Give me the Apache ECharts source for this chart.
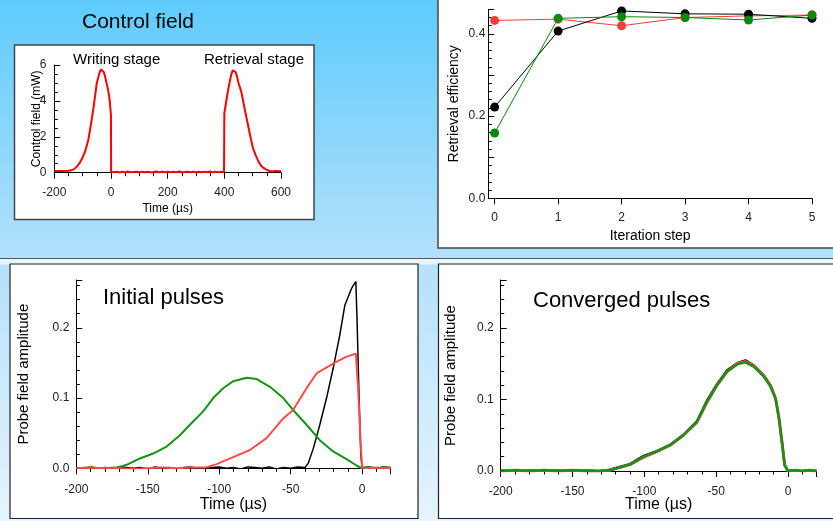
<!DOCTYPE html>
<html><head><meta charset="utf-8">
<script src="https://cdn.jsdelivr.net/npm/echarts@6/dist/echarts.min.js"></script>
<style>html,body{margin:0;padding:0;background:#fff}#c{width:833px;height:521px;}</style>
</head><body><div id="c"></div>
<script>
// ---- Control field (top-left) ----
const controlTime = [-200,-195,-190,-185,-180,-175,-170,-165,-160,-155,-150,-145,-140,-135,-130,-125,-120,-110,-100,-90,-80,-70,-60,-50,-40,-35,-30,-25,-20,-15,-10,-5,-1,0,0.5,
  10,20,30,40,50,60,70,80,90,100,110,120,130,140,150,160,170,180,190,200,210,220,230,240,250,260,270,280,290,300,310,320,330,340,350,360,370,380,390,399,
  400,405,410,415,420,425,430,435,440,445,450,460,470,480,490,500,510,520,530,540,550,560,565,570,575,580,585,590,595,600];
const controlPower = [0.08,0.15,0.1,0.14,0.09,0.13,0.1,0.12,0.08,0.14,0.11,0.09,0.13,0.15,0.2,0.28,0.35,0.55,0.85,1.25,1.82,2.75,3.8,5.0,5.6,5.75,5.8,5.6,5.3,4.95,4.6,4.1,3.4,3.15,0.05,
  0.02,0.06,0.01,0.05,0.03,0.07,0.02,0.04,0.06,0.02,0.05,0.03,0.06,0.01,0.04,0.07,0.03,0.05,0.02,0.06,0.03,0.05,0.02,0.07,0.03,0.04,0.06,0.02,0.05,0.03,0.06,0.02,0.05,0.04,0.07,0.02,0.05,0.03,0.06,0.04,
  3.3,3.8,4.3,4.75,5.15,5.5,5.7,5.72,5.6,5.35,5.0,4.5,3.7,2.92,2.16,1.43,0.99,0.64,0.38,0.25,0.15,0.1,0.13,0.07,0.14,0.09,0.12,0.08,0.13,0.1];
const controlXTicks = {min:-200, max:600, interval:200};
const controlYTicks = {min:0, max:6, interval:2};

// ---- Retrieval efficiency (top-right) ----
const iterationSteps = [0,1,2,3,4,5];
const effBlack = [0.222,0.407,0.456,0.449,0.448,0.438];
const effRed   = [0.433,0.436,0.420,0.440,0.444,0.446];
const effGreen = [0.159,0.438,0.442,0.440,0.434,0.446];

// ---- Initial pulses (bottom-left) ----
const initBlackT = [-200,-195,-190,-185,-180,-175,-170,-165,-160,-155,-150,-145,-140,-135,-130,-125,-120,-115,-110,-105,-100,-95,-90,-85,-80,-75,-70,-65,-60,-55,-50,-45,-40,-37.7,-34.2,-29.6,-24.9,-20.3,-15.6,-12.1,-7.4,-4.4,-3.5,-2.3,-0.9,0,5,10,15,20];
const initBlackA = [0.001,-0.001,0.002,0,0.001,-0.001,0.002,0.001,0,0.001,-0.001,0.002,0,0.001,-0.001,0.001,0.002,0,-0.001,0.001,0.002,0,0.001,-0.001,0.002,0.001,0,0.002,-0.001,0.001,0,0.002,0.001,0.007,0.028,0.062,0.1,0.142,0.19,0.232,0.256,0.266,0.208,0.114,0.019,0.001,0.002,0,0.002,0.001];
const initRedT = [-200,-190,-180,-170,-160,-150,-140,-130,-120,-110,-101.8,-90.2,-78.5,-66.9,-55.2,-48.3,-38.9,-31.9,-20.3,-10.9,-4.4,-2.8,-1.1,0,5,10,15,20];
const initRedA = [0,0.001,0,0,-0.001,0,0.001,0,0.001,0.001,0.006,0.016,0.026,0.043,0.071,0.083,0.114,0.135,0.149,0.159,0.163,0.114,0.038,0.001,0,0.001,0,0.001];
const initGreenT = [-200,-190,-183.4,-171.7,-164.8,-155.5,-146.2,-136.8,-127.5,-120.5,-111.2,-104.2,-97.2,-90.2,-80.8,-73.8,-64.5,-55.2,-48.3,-38.9,-29.6,-20.3,-10.9,-3.9,0,5,10,15,20];
const initGreenA = [0,0.001,0,0.001,0.005,0.014,0.021,0.031,0.047,0.062,0.081,0.1,0.114,0.124,0.129,0.127,0.116,0.1,0.083,0.062,0.040,0.024,0.013,0.004,0,0.001,0,0.001,0];

// ---- Converged pulses (bottom-right) ----
const convT = [-200,-190,-180,-170,-160,-150,-140,-131.1,-124.1,-117.1,-110.1,-100.8,-91.4,-82.1,-72.8,-63.4,-56.4,-49.4,-42.4,-35.4,-29.6,-23.8,-16.8,-12.1,-8.6,-6.3,-3.9,-2.3,0,5,10,15,20];
const convBlackA = [0.001,0,0.001,0,0.001,0,0.001,0,0.002,0.006,0.010,0.021,0.028,0.037,0.051,0.070,0.099,0.122,0.141,0.151,0.155,0.148,0.134,0.120,0.102,0.075,0.037,0.009,0.001,0.001,0,0.001,0];
const convRedA   = [0,0.001,0,0.001,0,0.001,0,0,0.001,0.005,0.009,0.019,0.027,0.036,0.050,0.068,0.096,0.120,0.139,0.150,0.153,0.147,0.133,0.119,0.101,0.074,0.036,0.008,0,0.001,0,0.001,0];
const convGreenA = [0,0.001,0,0.001,0,0.001,0,0,0.001,0.005,0.009,0.020,0.027,0.036,0.050,0.069,0.097,0.120,0.139,0.149,0.152,0.146,0.132,0.118,0.101,0.074,0.036,0.008,0,0.001,0,0.001,0];

const zip = (xs, ys) => xs.map((x, i) => [x, ys[i]]);
const FONT = '"Liberation Sans", Arial, sans-serif';

function axis(o) {
  return {
    type: 'value', gridIndex: o.grid, min: o.min, max: o.max, interval: o.interval,
    name: o.name, nameLocation: 'middle', nameGap: o.nameGap, nameMoveOverlap: false,
    nameTextStyle: {color: '#000', fontFamily: FONT, fontSize: o.nameSize},
    splitLine: {show: false},
    axisLine: {show: true, onZero: false, lineStyle: {color: '#000', width: 1}},
    axisTick: Object.assign({show: true, inside: !!o.inside, length: 6, lineStyle: {color: '#000'}}, o.tickExtra || {}),
    minorTick: {show: o.minor > 0, splitNumber: o.minor || 5, length: 3.5, lineStyle: {color: '#000'}},
    axisLabel: Object.assign({color: '#222', fontFamily: FONT, fontSize: o.labelSize || 12, margin: o.margin, showMaxLabel: o.showMax !== false}, o.labelExtra || {})
  };
}

const option = {
  animation: false,
  backgroundColor: new echarts.graphic.LinearGradient(0, 0, 0, 1, [
    {offset: 0, color: '#5ECBFD'}, {offset: 0.5, color: '#B4E1FB'}, {offset: 1, color: '#E6F4FE'}
  ]),
  graphic: [
    {type: 'rect', z: -10, shape: {x: 14.5, y: 45, width: 299.5, height: 174.5}, style: {fill: '#fff', stroke: '#444', lineWidth: 1.5}},
    {type: 'rect', z: -10, shape: {x: 438, y: -2, width: 400, height: 250}, style: {fill: '#fff', stroke: '#444', lineWidth: 1.5}},
    {type: 'rect', z: -11, shape: {x: 0, y: 258.5, width: 840, height: 6}, style: {fill: '#EAF6FE', stroke: null}},
    {type: 'line', z: -11, shape: {x1: 0, y1: 258.5, x2: 840, y2: 258.5}, style: {stroke: '#555', lineWidth: 1}},
    {type: 'rect', z: -10, shape: {x: 10, y: 264, width: 408, height: 254.5}, style: {fill: '#fff', stroke: '#222', lineWidth: 1.2}},
    {type: 'rect', z: -10, shape: {x: 438.5, y: 264, width: 400, height: 254.5}, style: {fill: '#fff', stroke: '#222', lineWidth: 1.2}},
    {type: 'text', z: 10, x: 138, y: 22, style: {text: 'Control field', fill: '#000', font: '21px ' + FONT, textAlign: 'center', textVerticalAlign: 'middle'}},
    {type: 'text', z: 10, x: 73, y: 60, style: {text: 'Writing stage', fill: '#000', font: '15px ' + FONT, textAlign: 'left', textVerticalAlign: 'middle'}},
    {type: 'text', z: 10, x: 204, y: 60, style: {text: 'Retrieval stage', fill: '#000', font: '15px ' + FONT, textAlign: 'left', textVerticalAlign: 'middle'}},
    {type: 'text', z: 10, x: 103, y: 298, style: {text: 'Initial pulses', fill: '#000', font: '22px ' + FONT, textAlign: 'left', textVerticalAlign: 'middle'}},
    {type: 'text', z: 10, x: 533, y: 301, style: {text: 'Converged pulses', fill: '#000', font: '22px ' + FONT, textAlign: 'left', textVerticalAlign: 'middle'}}
  ],
  grid: [
    {left: 54.3, width: 226.7, top: 65, height: 107.7},
    {left: 488.3, width: 323.7, top: 9.3, height: 189},
    {left: 76.3, width: 314.4, top: 280, height: 188.3},
    {left: 500.7, width: 316, top: 280, height: 191}
  ],
  xAxis: [
    axis({grid: 0, min: controlXTicks.min, max: controlXTicks.max, interval: controlXTicks.interval, minor: 4, name: 'Time (µs)', nameGap: 30, nameSize: 12, margin: 14}),
    axis({grid: 1, min: -0.1, max: 5, name: 'Iteration step', nameGap: 31, nameSize: 14, margin: 13, minor: 0,
      tickExtra: {customValues: iterationSteps}, labelExtra: {customValues: iterationSteps}}),
    axis({grid: 2, min: -200, max: 20, interval: 50, minor: 5, name: 'Time (µs)', nameGap: 28, nameSize: 16, margin: 15, showMax: false}),
    axis({grid: 3, min: -200, max: 20, interval: 50, minor: 5, name: 'Time (µs)', nameGap: 26, nameSize: 16, margin: 15, showMax: false})
  ],
  yAxis: [
    axis({grid: 0, min: controlYTicks.min, max: controlYTicks.max, interval: controlYTicks.interval, minor: 4, inside: true, name: 'Control field (mW)', nameGap: 12, nameSize: 12, margin: 8}),
    axis({grid: 1, min: 0, max: 0.46, interval: 0.1, minor: 5, inside: true, name: 'Retrieval efficiency', nameGap: 27, nameSize: 14, margin: 3, showMax: false,
      labelExtra: {formatter: v => (Math.round(v * 10) % 2 === 0 ? v.toFixed(1) : '')}}),
    axis({grid: 2, min: 0, max: 0.268, interval: 0.1, minor: 5, inside: true, name: 'Probe field amplitude', nameGap: 45, nameSize: 15, margin: 7, showMax: false,
      labelExtra: {formatter: v => v.toFixed(1)}}),
    axis({grid: 3, min: 0, max: 0.267, interval: 0.1, minor: 5, inside: true, name: 'Probe field amplitude', nameGap: 42, nameSize: 15, margin: 7, showMax: false,
      labelExtra: {formatter: v => v.toFixed(1)}})
  ],
  series: [
    {type: 'line', xAxisIndex: 0, yAxisIndex: 0, data: zip(controlTime, controlPower), showSymbol: false, lineStyle: {color: '#f00', width: 2}},
    {type: 'line', xAxisIndex: 1, yAxisIndex: 1, data: zip(iterationSteps, effRed), symbol: 'circle', symbolSize: 9, itemStyle: {color: '#ff3b3b'}, lineStyle: {color: '#ff3b3b', width: 1}},
    {type: 'line', xAxisIndex: 1, yAxisIndex: 1, data: zip(iterationSteps, effBlack), symbol: 'circle', symbolSize: 9, itemStyle: {color: '#000'}, lineStyle: {color: '#000', width: 1}},
    {type: 'line', xAxisIndex: 1, yAxisIndex: 1, data: zip(iterationSteps, effGreen), symbol: 'circle', symbolSize: 9, itemStyle: {color: '#0a8a0a'}, lineStyle: {color: '#0a8a0a', width: 1}},
    {type: 'line', xAxisIndex: 2, yAxisIndex: 2, data: zip(initBlackT, initBlackA), showSymbol: false, lineStyle: {color: '#000', width: 1.5}},
    {type: 'line', xAxisIndex: 2, yAxisIndex: 2, data: zip(initGreenT, initGreenA), showSymbol: false, lineStyle: {color: '#149414', width: 2}},
    {type: 'line', xAxisIndex: 2, yAxisIndex: 2, data: zip(initRedT, initRedA), showSymbol: false, lineStyle: {color: '#ff4a4a', width: 2}},
    {type: 'line', xAxisIndex: 3, yAxisIndex: 3, data: zip(convT, convBlackA), showSymbol: false, lineStyle: {color: '#000', width: 2}},
    {type: 'line', xAxisIndex: 3, yAxisIndex: 3, data: zip(convT, convRedA), showSymbol: false, lineStyle: {color: '#ff4a4a', width: 3}},
    {type: 'line', xAxisIndex: 3, yAxisIndex: 3, data: zip(convT, convGreenA), showSymbol: false, lineStyle: {color: '#149414', width: 2.5}}
  ]
};
const chart = echarts.init(document.getElementById('c'));
chart.setOption(option);
</script>
</body></html>
